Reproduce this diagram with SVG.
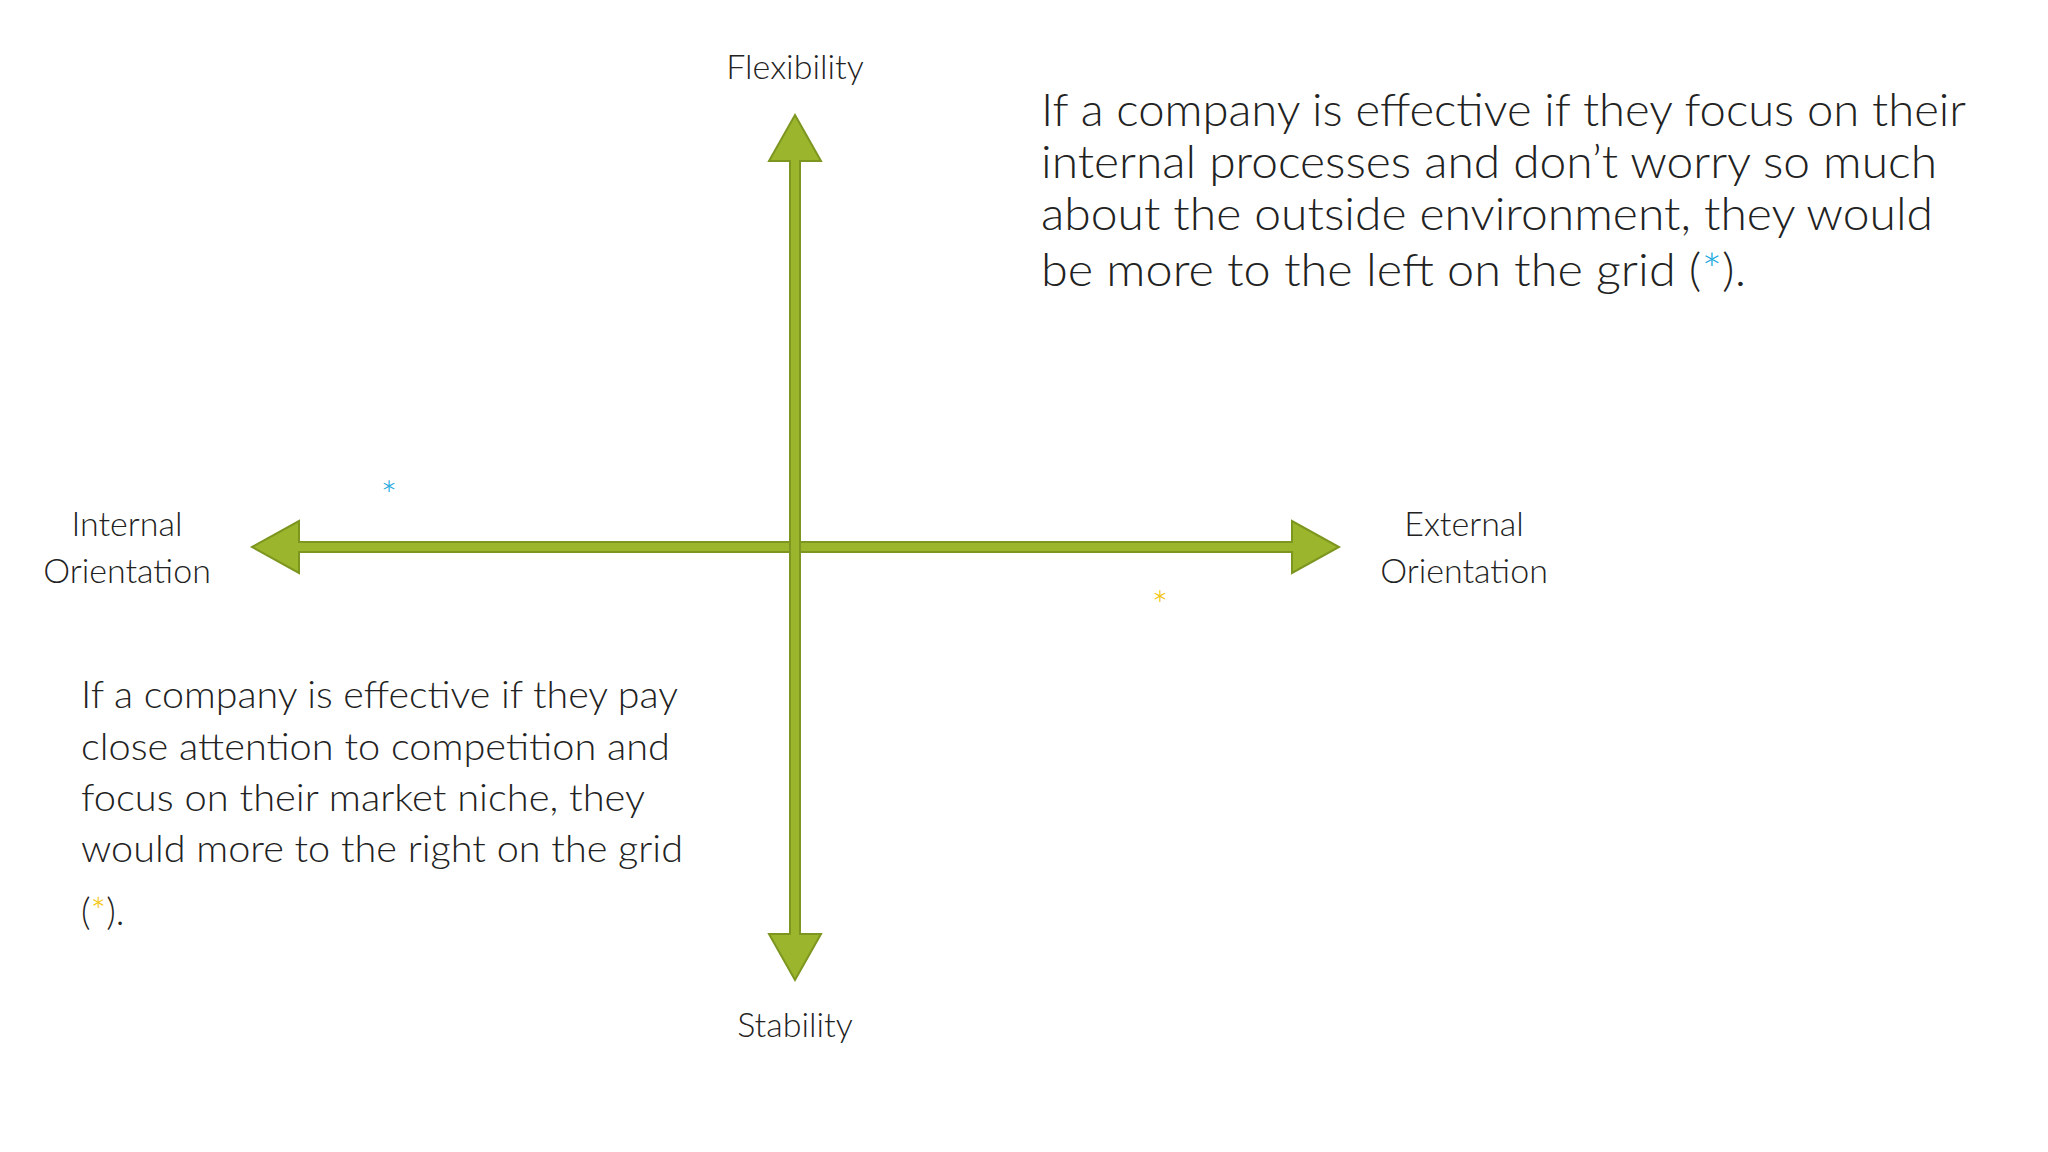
<svg xmlns="http://www.w3.org/2000/svg" width="2048" height="1152" viewBox="0 0 2048 1152">
<style>
.t{font-family:Lato,"Open Sans","Liberation Sans",sans-serif;fill:#222;font-weight:300}
.lbl{font-size:34px;text-anchor:middle}
.big{font-size:46px}
.mid{font-size:37px}
.arr{fill:#9bb52c;stroke:#7d9620;stroke-width:2}
.b{fill:#1aa7e0}.y{fill:#f2c200}
</style>
<rect width="2048" height="1152" fill="#fff"/>
<g id="connectors">
<polygon class="arr" points="252,547 299,521 299,542 1292,542 1292,521 1339,547 1292,573 1292,552 299,552 299,573"/>
<polygon class="arr" points="795,115 821,161 800,161 800,934 821,934 795,980 769,934 790,934 790,161 769,161"/>
</g>
<g id="flexibility"><text class="t lbl" x="795" y="79">Flexibility</text></g>
<g id="stability"><text class="t lbl" x="795" y="1037">Stability</text></g>
<g id="internal"><text class="t lbl" x="127" y="536">Internal</text><text class="t lbl" x="127" y="583">Orientation</text></g>
<g id="external"><text class="t lbl" x="1464" y="536">External</text><text class="t lbl" x="1464" y="583">Orientation</text></g>
<g id="star-blue"><text class="t b" x="389" y="510" font-size="40" text-anchor="middle">*</text></g>
<g id="star-yellow"><text class="t y" x="1160" y="620" font-size="40" text-anchor="middle">*</text></g>
<g id="text-right">
<text class="t big" x="1041" y="126" textLength="925" lengthAdjust="spacingAndGlyphs">If a company is effective if they focus on their</text>
<text class="t big" x="1041" y="178" textLength="896" lengthAdjust="spacingAndGlyphs">internal processes and don’t worry so much</text>
<text class="t big" x="1041" y="230" textLength="892" lengthAdjust="spacingAndGlyphs">about the outside environment, they would</text>
<text class="t big" x="1041" y="286" textLength="705" lengthAdjust="spacingAndGlyphs">be more to the left on the grid (<tspan class="b">*</tspan>).</text>
</g>
<g id="text-left">
<text class="t mid" x="81" y="708" textLength="597" lengthAdjust="spacingAndGlyphs">If a company is effective if they pay</text>
<text class="t mid" x="81" y="760" textLength="589" lengthAdjust="spacingAndGlyphs">close attention to competition and</text>
<text class="t mid" x="81" y="811" textLength="564" lengthAdjust="spacingAndGlyphs">focus on their market niche, they</text>
<text class="t mid" x="81" y="862" textLength="602" lengthAdjust="spacingAndGlyphs">would more to the right on the grid</text>
<text class="t mid" x="81" y="925">(<tspan class="y">*</tspan>).</text>
</g>
</svg>
